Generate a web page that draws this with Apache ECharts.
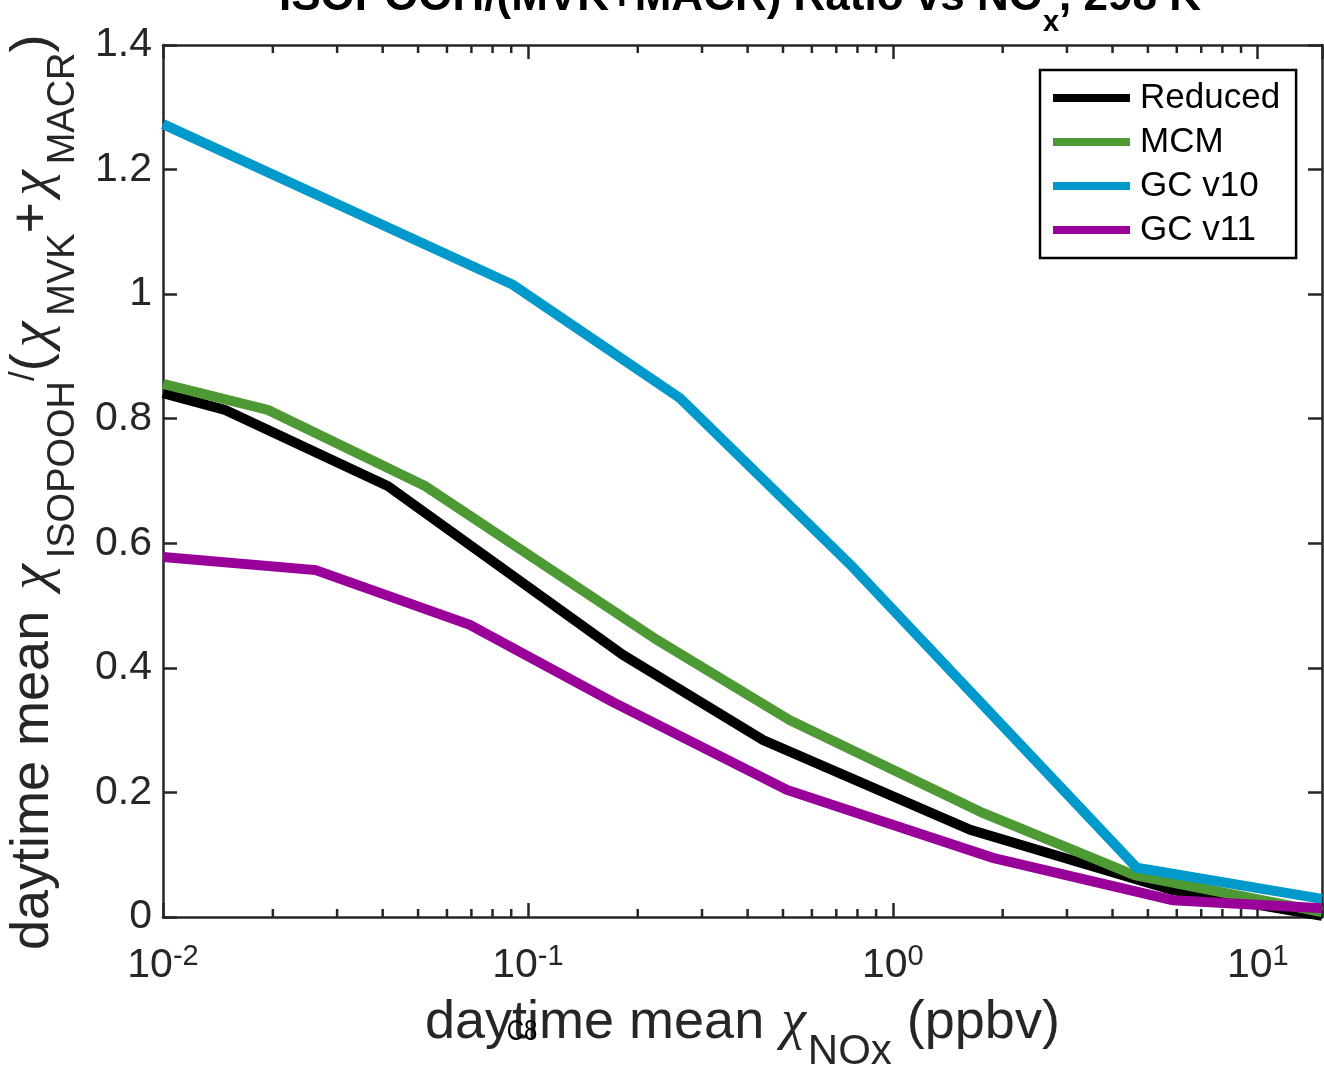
<!DOCTYPE html>
<html>
<head>
<meta charset="utf-8">
<script src="https://cdn.jsdelivr.net/npm/echarts@6/dist/echarts.min.js"></script>
<style>
html,body{margin:0;padding:0;background:#fff;}
#chart{width:1324px;height:1071px;}
</style>
</head>
<body>
<div id="chart"></div>
<script>
// ---- data ----
const seriesNames = ['Reduced', 'MCM', 'GC v10', 'GC v11'];
const seriesColors = ['#000000', '#4D9933', '#0099CC', '#990099'];

const reducedX = [0.01, 0.0148, 0.0413, 0.182, 0.441, 1.63, 5.85, 15];
const reducedY = [0.841, 0.814, 0.692, 0.421, 0.284, 0.140, 0.043, 0.002];

const mcmX = [0.01, 0.0194, 0.0523, 0.2256, 0.522, 1.764, 4.60, 15];
const mcmY = [0.856, 0.814, 0.692, 0.445, 0.316, 0.167, 0.067, 0.008];

const gc10X = [0.01, 0.091, 0.261, 0.776, 4.66, 15];
const gc10Y = [1.273, 1.015, 0.833, 0.562, 0.079, 0.029];

const gc11X = [0.01, 0.0262, 0.0693, 0.171, 0.513, 1.88, 5.85, 15];
const gc11Y = [0.578, 0.557, 0.469, 0.345, 0.204, 0.095, 0.027, 0.014];

const xTickExponents = [-2, -1, 0, 1];
const xMinorTicks = [0.02, 0.03, 0.04, 0.05, 0.06, 0.07, 0.08, 0.09,
                     0.2, 0.3, 0.4, 0.5, 0.6, 0.7, 0.8, 0.9,
                     2, 3, 4, 5, 6, 7, 8, 9];
const yTickLabels = ['0', '0.2', '0.4', '0.6', '0.8', '1', '1.2', '1.4'];

// ---- chart ----
const AX = '#262626';
const SANS = 'Liberation Sans, Arial, Helvetica, sans-serif';
const SERIF = 'Liberation Serif, Times New Roman, serif';

function pairs(xs, ys) { return xs.map((x, i) => [x, ys[i]]); }
const seriesData = [pairs(reducedX, reducedY), pairs(mcmX, mcmY), pairs(gc10X, gc10Y), pairs(gc11X, gc11Y)];

const chart = echarts.init(document.getElementById('chart'), null, {renderer: 'canvas'});
const axisLineStyle = {color: AX, width: 2.5};

// ---- text helper: lays out pieces along a baseline, with sub/superscript shifts ----
const mctx = document.createElement('canvas').getContext('2d');
function fontStr(p) {
  return (p.italic ? 'italic ' : 'normal ') + (p.bold ? 'bold ' : 'normal ') + p.size + 'px ' + p.family;
}
// anchor: 'center' (cx,cy is centre of baseline) or 'start' (cx,cy is start of baseline)
function buildLabel(pieces, cx, cy, rotation, color, anchor) {
  const widths = pieces.map(p => {
    mctx.font = fontStr(p);
    return mctx.measureText(p.t).width + (p.padL || 0) + (p.padR || 0);
  });
  const total = widths.reduce((a, b) => a + b, 0);
  let x = anchor === 'start' ? 0 : -total / 2;
  const children = pieces.map((p, i) => {
    mctx.font = fontStr(p);
    mctx.textBaseline = 'alphabetic';
    const m = mctx.measureText(p.t);
    const A = (m.fontBoundingBoxAscent !== undefined) ? m.fontBoundingBoxAscent : 0.905 * p.size;
    const D = (m.fontBoundingBoxDescent !== undefined) ? m.fontBoundingBoxDescent : 0.212 * p.size;
    const mid = (p.dy || 0) - (A - D) / 2;
    const el = {
      type: 'text',
      x: x + (p.padL || 0),
      y: mid,
      silent: true,
      style: {
        text: p.t,
        fontSize: p.size,
        fontFamily: p.family,
        fontWeight: p.bold ? 'bold' : 'normal',
        fontStyle: p.italic ? 'italic' : 'normal',
        fill: color,
        align: 'left',
        verticalAlign: 'middle'
      }
    };
    x += widths[i];
    return el;
  });
  return {type: 'group', x: cx, y: cy, rotation: rotation || 0, z: 50, children: children};
}

const option = {
  animation: false,
  backgroundColor: '#ffffff',
  grid: {left: 163, right: 2, top: 45, bottom: 154, containLabel: false},
  legend: {
    data: seriesNames,
    orient: 'vertical',
    left: 1040,
    top: 70,
    icon: 'rect',
    itemWidth: 77,
    itemHeight: 8,
    itemGap: 8,
    padding: [10, 16, 10, 13],
    backgroundColor: '#ffffff',
    borderColor: '#000000',
    borderWidth: 2.5,
    textStyle: {fontFamily: SANS, fontSize: 35, color: '#000', lineHeight: 36, padding: [0, 0, 0, 5]}
  },
  xAxis: [
    {
      type: 'log', logBase: 10, min: 0.01, max: 15, position: 'bottom',
      axisLine: {show: true, onZero: false, lineStyle: axisLineStyle},
      axisTick: {show: true, inside: true, length: 14, lineStyle: axisLineStyle},
      splitLine: {show: false},
      minorTick: {show: false},
      axisLabel: {show: false}
    },
    {
      type: 'log', logBase: 10, min: 0.01, max: 15, position: 'top',
      axisLine: {show: true, onZero: false, lineStyle: axisLineStyle},
      axisTick: {show: true, inside: true, length: 14, lineStyle: axisLineStyle},
      splitLine: {show: false},
      axisLabel: {show: false}
    }
  ],
  yAxis: [
    {
      type: 'value', min: 0, max: 1.4, interval: 0.2, position: 'left',
      axisLine: {show: true, onZero: false, lineStyle: axisLineStyle},
      axisTick: {show: true, inside: true, length: 14, lineStyle: axisLineStyle},
      splitLine: {show: false},
      axisLabel: {
        margin: 11, fontFamily: SANS, fontSize: 41, color: AX,
        formatter: function (v) { return yTickLabels[Math.round(v / 0.2)]; }
      }
    },
    {
      type: 'value', min: 0, max: 1.4, interval: 0.2, position: 'right',
      axisLine: {show: true, onZero: false, lineStyle: axisLineStyle},
      axisTick: {show: true, inside: true, length: 14, lineStyle: axisLineStyle},
      splitLine: {show: false},
      axisLabel: {show: false}
    }
  ],
  series: seriesNames.map((name, i) => ({
    name: name,
    type: 'line',
    xAxisIndex: 0,
    yAxisIndex: 0,
    data: seriesData[i],
    showSymbol: false,
    symbol: 'none',
    color: seriesColors[i],
    itemStyle: {color: seriesColors[i]},
    lineStyle: {color: seriesColors[i], width: 10, cap: 'butt', join: 'miter'},
    z: 3 + i
  })).concat([{
    name: 'minorTicks',
    type: 'custom',
    xAxisIndex: 0,
    yAxisIndex: 0,
    silent: true,
    clip: false,
    z: 10,
    data: xMinorTicks.map(v => [v, 0]),
    encode: {x: 0, y: 1},
    renderItem: function (params, api) {
      const v = api.value(0);
      const pb = api.coord([v, 0]);
      const pt = api.coord([v, 1.4]);
      const st = {stroke: AX, lineWidth: 2.5};
      return {
        type: 'group',
        children: [
          {type: 'line', shape: {x1: pb[0], y1: pb[1], x2: pb[0], y2: pb[1] - 8}, style: st},
          {type: 'line', shape: {x1: pt[0], y1: pt[1], x2: pt[0], y2: pt[1] + 8}, style: st}
        ]
      };
    }
  }])
};

chart.setOption(option);

// ---- texts built as positioned pieces ----
function P(base, t) { return Object.assign({}, base, {t: t}); }

const graphics = [];

// title (partly above the top edge)
graphics.push(buildLabel([
  {t: 'ISOPOOH/(MVK+MACR) Ratio vs NO', size: 44, family: SANS, bold: true},
  {t: 'x', size: 29, family: SANS, bold: true, dy: 20},
  {t: ', 298 K', size: 44, family: SANS, bold: true}
], 279, 13, 0, '#000', 'start'));

// x-axis name
const XN = {size: 54, family: SANS};
const XC = {size: 56, family: SERIF, italic: true, padL: 2, padR: 2};
const XSUB = {size: 42, family: SANS, dy: 25};
graphics.push(buildLabel([
  P(XN, 'daytime mean '), P(XC, 'χ'), P(XSUB, 'NOx'), P(XN, ' (ppbv)')
], 425, 1042, 0, AX, 'start'));

// y-axis name (rotated, reading bottom to top)
const YN = {size: 54, family: SANS};
const YC = {size: 58, family: SERIF, italic: true, padL: 6, padR: 6};
const YSUB = {size: 38, family: SANS, dy: 25};
const YSUP = {size: 35, family: SANS, dy: -15};
graphics.push(buildLabel([
  P(YN, 'daytime mean '), P(YC, 'χ'), P(YSUB, 'ISOPOOH'), P(YSUP, '/'), P(YN, '('),
  P(YC, 'χ'), P(YSUB, 'MVK'), P(YN, '+'), P(YC, 'χ'), P(YSUB, 'MACR'), P(YN, ')')
], 52, 950, Math.PI / 2, AX, 'start'));

// x tick labels 10^e, placed through the axis scale
xTickExponents.forEach(e => {
  const px = chart.convertToPixel({xAxisIndex: 0}, Math.pow(10, e));
  graphics.push(buildLabel([
    {t: '10', size: 41, family: SANS},
    {t: String(e), size: 29, family: SANS, dy: -13}
  ], px, 980, 0, AX, 'center'));
});

// stray small text overlapping the x label in the reference
graphics.push({
  type: 'text', x: 522, y: 1032, scaleX: 0.8, z: 100, silent: true,
  style: {text: 'C8', align: 'center', verticalAlign: 'middle', fontFamily: SANS, fontSize: 30, fill: '#000'}
});

chart.setOption({graphic: graphics});
</script>
</body>
</html>
